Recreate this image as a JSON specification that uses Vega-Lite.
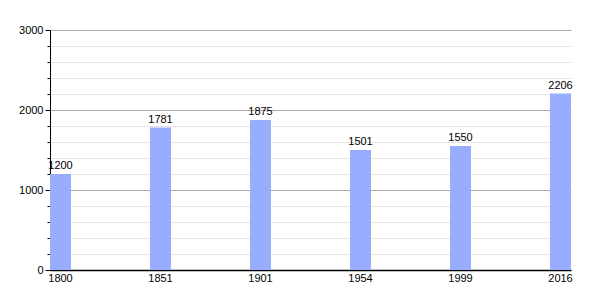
{
  "$schema": "https://vega.github.io/schema/vega-lite/v6.json",
  "autosize": "none",
  "width": 521,
  "height": 240,
  "padding": {"left": 50, "top": 30, "right": 29, "bottom": 30},
  "background": "white",
  "config": {
    "view": {"stroke": null},
    "font": "Liberation Sans",
    "axis": {"labelFont": "Liberation Sans", "labelFontSize": 11, "labelColor": "black"}
  },
  "data": {"values": [
    {"year": "1800", "pop": 1200},
    {"year": "1851", "pop": 1781},
    {"year": "1901", "pop": 1875},
    {"year": "1954", "pop": 1501},
    {"year": "1999", "pop": 1550},
    {"year": "2016", "pop": 2206}
  ]},
  "encoding": {
    "x": {
      "field": "year", "type": "ordinal", "sort": null,
      "scale": {"paddingInner": 0.79, "paddingOuter": 0},
      "axis": {"title": null, "labelAngle": 0, "ticks": false, "domainColor": "black", "domainWidth": 1.5, "labelPadding": 2, "grid": false}
    },
    "y": {
      "field": "pop", "type": "quantitative",
      "scale": {"domain": [0, 3000], "nice": false},
      "axis": {
        "title": null,
        "values": [0, 200, 400, 600, 800, 1000, 1200, 1400, 1600, 1800, 2000, 2200, 2400, 2600, 2800, 3000],
        "labelExpr": "datum.value % 1000 === 0 ? datum.value : ''",
        "domainColor": "black",
        "tickColor": "black",
        "tickSize": {"condition": {"test": "datum.value % 1000 === 0", "value": 5}, "value": 3},
        "labelPadding": 2,
        "grid": true,
        "gridColor": {"condition": {"test": "datum.value % 1000 === 0", "value": "#a8a8a8"}, "value": "#e4e4e4"},
        "gridWidth": 1
      }
    }
  },
  "layer": [
    {"mark": {"type": "bar", "color": "#99adff"}},
    {"mark": {"type": "text", "baseline": "bottom", "dy": -3, "fontSize": 11, "color": "black"},
     "encoding": {"text": {"field": "pop", "type": "quantitative", "format": "d"}}}
  ]
}
